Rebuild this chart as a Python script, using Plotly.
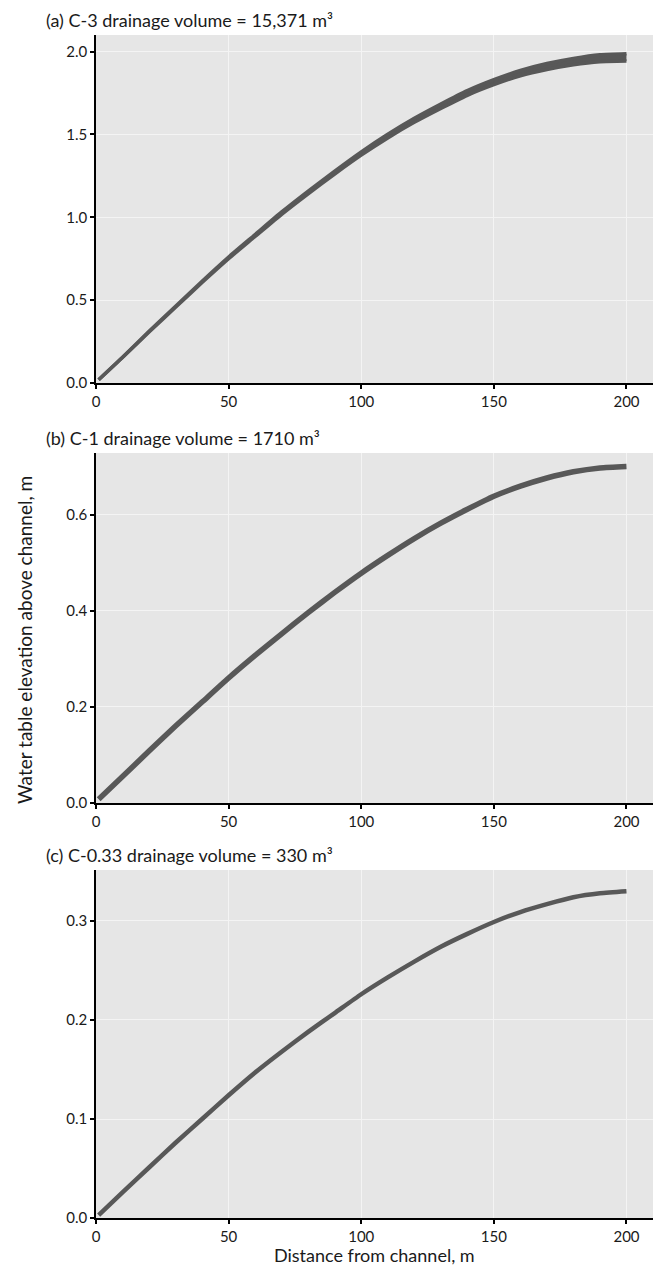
import plotly.graph_objects as go

# ---------------- data ----------------
distance = [1, 10, 20, 30, 40, 50, 60, 70, 80, 90, 100, 110, 120, 130, 140, 150, 160, 170, 180, 190, 200]

# (a) C-3 : band of simulated water tables (lower / upper envelope)
c3_lower = [0.020, 0.154, 0.308, 0.457, 0.606, 0.750, 0.884, 1.018, 1.142, 1.261, 1.375,
            1.479, 1.573, 1.657, 1.736, 1.800, 1.854, 1.892, 1.921, 1.939, 1.943]
c3_upper = [0.020, 0.156, 0.312, 0.463, 0.614, 0.760, 0.896, 1.032, 1.158, 1.279, 1.395,
            1.501, 1.597, 1.683, 1.764, 1.830, 1.886, 1.928, 1.959, 1.981, 1.987]

# (b) C-1
c1_level = [0.008, 0.055, 0.108, 0.160, 0.210, 0.260, 0.307, 0.352, 0.396, 0.438, 0.478,
            0.515, 0.550, 0.582, 0.611, 0.638, 0.659, 0.676, 0.689, 0.697, 0.700]

# (c) C-0.33
c033_level = [0.003, 0.026, 0.051, 0.076, 0.100, 0.124, 0.147, 0.168, 0.188, 0.207, 0.226,
              0.243, 0.259, 0.274, 0.287, 0.299, 0.309, 0.317, 0.324, 0.328, 0.330]

panel_titles = ["(a) C-3 drainage volume = 15,371 m³",
                "(b) C-1 drainage volume = 1710 m³",
                "(c) C-0.33 drainage volume = 330 m³"]
x_ticks = [0, 50, 100, 150, 200]
y_ticks_a = [0.0, 0.5, 1.0, 1.5, 2.0]
y_ticks_b = [0.0, 0.2, 0.4, 0.6]
y_ticks_c = [0.0, 0.1, 0.2, 0.3]

# ---------------- layout geometry (pixels) ----------------
W, H = 657, 1270
ML, MR, MT, MB = 96, 4, 35, 52
PH = H - MT - MB
PW = W - ML - MR
BOTTOM = H - MB


def ypaper(px):
    return (BOTTOM - px) / PH


def xpaper(px):
    return (px - ML) / PW


panels_px = [(35, 383), (453, 803), (870, 1218)]
line_col = "#585858"
font = "Lato, 'Open Sans', sans-serif"
txt_col = "#1a1a1a"

fig = go.Figure()

# panel (a) band
fig.add_trace(go.Scatter(x=distance, y=c3_lower, mode="lines", xaxis="x", yaxis="y",
                         line=dict(color=line_col, width=3.5, shape="spline", smoothing=0.6),
                         showlegend=False, hoverinfo="skip"))
fig.add_trace(go.Scatter(x=distance, y=c3_upper, mode="lines", xaxis="x", yaxis="y",
                         line=dict(color=line_col, width=3.5, shape="spline", smoothing=0.6),
                         fill="tonexty", fillcolor=line_col, showlegend=False))
# panel (b)
fig.add_trace(go.Scatter(x=distance, y=c1_level, mode="lines", xaxis="x2", yaxis="y2",
                         line=dict(color=line_col, width=5.5, shape="spline", smoothing=0.6),
                         showlegend=False))
# panel (c)
fig.add_trace(go.Scatter(x=distance, y=c033_level, mode="lines", xaxis="x3", yaxis="y3",
                         line=dict(color=line_col, width=4.5, shape="spline", smoothing=0.6),
                         showlegend=False))

axis_common = dict(showline=True, linecolor="black", linewidth=1.6,
                   ticks="outside", ticklen=4, tickwidth=1.6, tickcolor="black",
                   showgrid=True, gridcolor="#f4f4f4", gridwidth=1, zeroline=False,
                   tickfont=dict(family=font, size=15, color=txt_col))

yranges = [[0, 2.10], [0, 0.728], [0, 0.3515]]
yticks = [y_ticks_a, y_ticks_b, y_ticks_c]
layout = {}
for i, (top, bot) in enumerate(panels_px):
    sfx = "" if i == 0 else str(i + 1)
    layout["xaxis" + sfx] = dict(axis_common, domain=[0, 1], range=[0, 210],
                                 tickvals=x_ticks, anchor="y" + sfx)
    layout["yaxis" + sfx] = dict(axis_common, domain=[ypaper(bot), ypaper(top)],
                                 range=yranges[i], tickvals=yticks[i], tickformat=".1f",
                                 anchor="x" + sfx)

annotations = []
for i, (top, bot) in enumerate(panels_px):
    annotations.append(dict(text=panel_titles[i], xref="paper", yref="paper",
                            x=xpaper(44), y=ypaper(top - 15), xanchor="left", yanchor="middle",
                            showarrow=False, font=dict(family=font, size=18, color=txt_col)))
annotations.append(dict(text="Water table elevation above channel, m", xref="paper", yref="paper",
                        x=xpaper(24), y=ypaper(640), textangle=-90, xanchor="center",
                        yanchor="middle", showarrow=False,
                        font=dict(family=font, size=19, color=txt_col)))
annotations.append(dict(text="Distance from channel, m", xref="paper", yref="paper",
                        x=0.5, y=ypaper(1255), xanchor="center", yanchor="middle",
                        showarrow=False, font=dict(family=font, size=18, color=txt_col)))

fig.update_layout(width=W, height=H, margin=dict(l=ML, r=MR, t=MT, b=MB),
                  paper_bgcolor="white", plot_bgcolor="#e6e6e6",
                  annotations=annotations, **layout)

fig.write_html("out.html", config={"displayModeBar": False},
               post_script="document.body.style.margin='0';document.body.style.padding='0';")
